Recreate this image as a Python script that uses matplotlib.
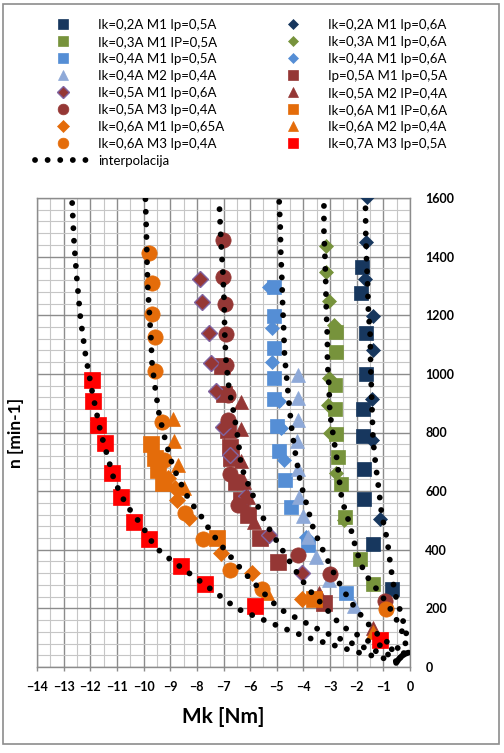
import numpy as np
import matplotlib.pyplot as plt
from matplotlib.lines import Line2D
from matplotlib.patches import Rectangle

plt.rcParams['font.family'] = ['Lato', 'DejaVu Sans']

# measured points: Mk [Nm] (x), n [min-1] (y)
ik02_m1_ip05_x = [-1.80, -1.85, -1.67, -1.67, -1.77, -1.75, -1.72, -1.72, -1.37, -0.69]
ik02_m1_ip05_y = [1364, 1277, 1139, 1000, 880, 787, 675, 573, 420, 266]
ik02_m1_ip06_x = [-1.62, -1.64, -1.70, -1.39, -1.39, -1.44, -1.42, -1.14]
ik02_m1_ip06_y = [1602, 1450, 1324, 1198, 1082, 914, 773, 506]
ik03_m1_ip05_x = [-2.78, -2.78, -2.81, -2.81, -2.78, -2.71, -2.59, -2.43, -1.87, -1.38]
ik03_m1_ip05_y = [1144, 1073, 962, 880, 794, 716, 625, 512, 367, 284]
ik03_m1_ip06_x = [-3.16, -3.16, -3.04, -2.85, -3.04, -3.07, -3.00, -2.78, -2.47]
ik03_m1_ip06_y = [1437, 1346, 1247, 1167, 985, 893, 797, 663, 500]
ik04_m1_ip05_x = [-5.12, -5.12, -5.12, -5.12, -5.12, -5.01, -4.93, -4.71, -4.46, -3.82, -2.40]
ik04_m1_ip05_y = [1298, 1198, 1088, 987, 913, 823, 738, 639, 547, 417, 253]
ik04_m1_ip06_x = [-5.31, -5.19, -5.19, -4.93, -4.86, -4.74, -3.92]
ik04_m1_ip06_y = [1298, 1156, 1039, 908, 816, 707, 445]
ik04_m2_ip04_x = [-4.20, -4.20, -4.20, -4.25, -4.20, -4.15, -4.02, -3.82, -3.54, -3.04, -2.12]
ik04_m2_ip04_y = [997, 918, 841, 770, 674, 581, 514, 443, 374, 298, 209]
ip05_m1_ip05_x = [-7.06, -6.98, -6.83, -6.76, -6.70, -6.53, -6.34, -6.07, -5.62, -4.97, -3.23]
ip05_m1_ip05_y = [1027, 932, 809, 751, 714, 632, 570, 519, 441, 357, 220]
ik05_m1_ip06_x = [-7.87, -7.82, -7.53, -7.46, -7.28, -7.01, -6.77, -6.14, -5.31, -4.06]
ik05_m1_ip06_y = [1325, 1244, 1141, 1038, 940, 819, 724, 582, 451, 320]
ik05_m2_ip04_x = [-6.34, -6.36, -6.33, -6.22, -6.07, -5.84, -3.41, -1.37]
ik05_m2_ip04_y = [905, 811, 703, 632, 581, 495, 253, 134]
ik05_m3_ip04_x = [-7.02, -7.02, -6.96, -6.90, -6.90, -6.83, -6.83, -6.77, -6.47, -4.21, -3.00, -0.95]
ik05_m3_ip04_y = [1457, 1330, 1240, 1136, 1029, 928, 843, 659, 553, 383, 316, 224]
ik06_m1_ip06_x = [-9.73, -9.57, -9.45, -9.26, -7.25, -3.61]
ik06_m1_ip06_y = [760, 714, 672, 628, 441, 233]
ik06_m1_ip065_x = [-9.07, -8.82, -8.76, -8.28, -7.08, -5.94, -4.07]
ik06_m1_ip065_y = [645, 610, 570, 508, 389, 320, 231]
ik06_m2_ip04_x = [-8.91, -8.84, -8.69, -8.50, -5.38, -1.40]
ik06_m2_ip04_y = [847, 772, 689, 612, 254, 120]
ik06_m3_ip04_x = [-9.78, -9.69, -9.69, -9.56, -9.56, -9.30, -9.23, -8.44, -7.78, -6.76, -5.57, -0.89]
ik06_m3_ip04_y = [1414, 1309, 1205, 1125, 1009, 835, 707, 526, 437, 332, 267, 198]
ik07_m3_ip05_x = [-11.95, -11.89, -11.70, -11.45, -11.20, -10.85, -10.37, -9.80, -8.60, -7.69, -5.82, -1.14]
ik07_m3_ip05_y = [980, 906, 824, 764, 661, 580, 496, 437, 343, 284, 209, 93]

# interpolation curves
interp_a_x = [-12.68, -12.61, -12.50, -12.37, -12.17, -11.92, -11.61, -11.35, -11.09, -10.65, -10.06,
              -9.58, -9.23, -8.85, -8.06, -7.27, -6.49, -5.61, -4.71, -3.80, -2.78, -1.96, -1.0, -0.44]
interp_a_y = [1583, 1451, 1320, 1191, 1059, 935, 800, 718, 633, 553, 482,
              411, 383, 357, 305, 252, 199, 165, 131, 99, 72, 50, 30, 18]
interp_b_x = [-9.93, -9.89, -9.87, -9.84, -9.78, -9.72, -9.68, -9.55, -9.41, -9.17, -8.92, -8.73, -8.28,
              -7.74, -7.49, -6.90, -6.26, -5.62, -4.91, -4.49, -4.07, -3.23, -2.40, -1.52, -0.8, -0.3]
interp_b_y = [1596, 1466, 1380, 1292, 1205, 1118, 1031, 943, 858, 769, 690, 650, 568,
              502, 462, 394, 326, 264, 199, 178, 158, 119, 88, 60, 42, 30]
interp_c_x = [-7.15, -7.08, -7.02, -6.98, -6.95, -6.90, -6.79, -6.60, -6.45, -6.34, -6.20, -5.82,
              -5.42, -4.90, -4.40, -3.86, -3.23, -2.72, -2.34, -1.98, -1.61, -1.0, -0.5, -0.15]
interp_c_y = [1562, 1429, 1343, 1254, 1126, 1037, 947, 860, 775, 690, 650, 570,
              491, 415, 343, 271, 207, 155, 127, 110, 90, 70, 55, 45]
interp_d_x = [-4.91, -4.87, -4.85, -4.81, -4.78, -4.74, -4.71, -4.62, -4.53, -4.43, -4.28, -4.11,
              -3.86, -3.61, -3.19, -2.77, -2.28, -1.71, -1.10, -0.6, -0.2]
interp_d_y = [1587, 1502, 1415, 1326, 1235, 1150, 1065, 977, 891, 803, 716, 629,
              548, 466, 383, 304, 229, 161, 100, 70, 55]
interp_e_x = [-3.23, -3.23, -3.19, -3.16, -3.14, -3.10, -3.10, -3.04, -3.01, -2.88, -2.73, -2.62,
              -2.55, -2.28, -2.02, -1.71, -1.33, -0.91, -0.57, -0.32, -0.19, -0.1]
interp_e_y = [1573, 1485, 1394, 1303, 1212, 1122, 1042, 957, 868, 789, 700, 611,
              568, 492, 400, 320, 275, 224, 173, 127, 87, 55]
interp_f_x = [-1.67, -1.66, -1.63, -1.59, -1.56, -1.49, -1.48, -1.45, -1.42, -1.39, -1.29, -1.17,
              -1.06, -0.85, -0.73, -0.57, -0.32, -0.19, -0.08]
interp_f_y = [1565, 1477, 1389, 1300, 1211, 1127, 1038, 951, 866, 778, 690, 605,
              519, 431, 345, 252, 178, 133, 90]
# short, very dense curve close to the origin (reads as a solid arc)
interp_g_x = [-0.52, -0.42, -0.30, -0.18, -0.06]
interp_g_y = [14, 27, 38, 45, 49]

series = [
    ("Ik=0,2A M1 Ip=0,5A", ik02_m1_ip05_x, ik02_m1_ip05_y, 's', '#17375E', '#17375E', 10),
    ("Ik=0,2A M1 Ip=0,6A", ik02_m1_ip06_x, ik02_m1_ip06_y, 'D', '#17375E', '#17375E', 7.5),
    ("Ik=0,3A M1 IP=0,5A", ik03_m1_ip05_x, ik03_m1_ip05_y, 's', '#77933C', '#77933C', 10),
    ("Ik=0,3A M1 Ip=0,6A", ik03_m1_ip06_x, ik03_m1_ip06_y, 'D', '#77933C', '#77933C', 7.5),
    ("Ik=0,4A M1 Ip=0,5A", ik04_m1_ip05_x, ik04_m1_ip05_y, 's', '#558ED5', '#558ED5', 10),
    ("Ik=0,4A M1 Ip=0,6A", ik04_m1_ip06_x, ik04_m1_ip06_y, 'D', '#558ED5', '#558ED5', 7.5),
    ("Ik=0,4A M2 Ip=0,4A", ik04_m2_ip04_x, ik04_m2_ip04_y, '^', '#8EA9D8', '#8EA9D8', 10),
    ("Ip=0,5A M1 Ip=0,5A", ip05_m1_ip05_x, ip05_m1_ip05_y, 's', '#953735', '#953735', 11),
    ("Ik=0,5A M1 Ip=0,6A", ik05_m1_ip06_x, ik05_m1_ip06_y, 'D', '#953735', '#8064A2', 8.5),
    ("Ik=0,5A M2 IP=0,4A", ik05_m2_ip04_x, ik05_m2_ip04_y, '^', '#953735', '#953735', 10),
    ("Ik=0,5A M3 Ip=0,4A", ik05_m3_ip04_x, ik05_m3_ip04_y, 'o', '#953735', '#953735', 11),
    ("Ik=0,6A M1 IP=0,6A", ik06_m1_ip06_x, ik06_m1_ip06_y, 's', '#E46C0A', '#E46C0A', 11),
    ("Ik=0,6A M1 Ip=0,65A", ik06_m1_ip065_x, ik06_m1_ip065_y, 'D', '#E46C0A', '#E46C0A', 8.5),
    ("Ik=0,6A M2 Ip=0,4A", ik06_m2_ip04_x, ik06_m2_ip04_y, '^', '#E46C0A', '#E46C0A', 10),
    ("Ik=0,6A M3 Ip=0,4A", ik06_m3_ip04_x, ik06_m3_ip04_y, 'o', '#E46C0A', '#E46C0A', 11),
    ("Ik=0,7A M3 Ip=0,5A", ik07_m3_ip05_x, ik07_m3_ip05_y, 's', '#FF0000', '#FF0000', 11),
]
curves = [(interp_a_x, interp_a_y), (interp_b_x, interp_b_y), (interp_c_x, interp_c_y),
          (interp_d_x, interp_d_y), (interp_e_x, interp_e_y), (interp_f_x, interp_f_y)]

fig = plt.figure(figsize=(5.04, 7.53), dpi=100)
fig.patches.append(Rectangle((3 / 504, 1 - 744 / 753), 496 / 504, 740 / 753, transform=fig.transFigure,
                             fill=False, edgecolor='#8c8c8c', lw=1.2))
ax = fig.add_axes([37 / 504, 1 - 667 / 753, 373 / 504, 469 / 753])

handles = []
for label, x, y, m, fc, ec, ms in series:
    ax.plot(x, y, linestyle='none', marker=m, markersize=ms, markerfacecolor=fc,
            markeredgecolor=ec, markeredgewidth=1.0 if ec != fc else 0.5, zorder=3)
    handles.append(Line2D([], [], linestyle='none', marker=m, markersize=ms * 0.7,
                          markerfacecolor=fc, markeredgecolor=ec, markeredgewidth=1.0 if ec != fc else 0.5))

dot_style = dict(color='black', lw=4.2, linestyle=(0, (0.01, 2.15)), dash_capstyle='round', zorder=4)
for cx, cy in curves:
    ax.plot(cx, cy, **dot_style)
ax.plot(interp_g_x, interp_g_y, color='black', lw=4.2, solid_capstyle='round', zorder=4)
interp_handle = Line2D([], [], **dot_style)

ax.set_xlim(-14, 0)
ax.set_ylim(0, 1600)
ax.set_xticks(np.arange(-14, 1, 1))
ax.set_xticks(np.arange(-14, 0.01, 0.5), minor=True)
ax.set_yticks(np.arange(0, 1601, 200))
ax.set_yticks(np.arange(0, 1601, 40), minor=True)
ax.grid(which='major', color='#8c8c8c', lw=1.0)
ax.grid(which='minor', color='#c6c6c6', lw=0.8)
ax.set_axisbelow(True)
ax.yaxis.tick_right()
ax.tick_params(axis='x', which='major', direction='out', length=3, width=1, color='#8c8c8c',
               labelsize=9, pad=7)
ax.tick_params(axis='y', which='major', length=0, labelsize=9, pad=11)
ax.tick_params(which='minor', length=0)
for lab in ax.get_xticklabels() + ax.get_yticklabels():
    lab.set_fontweight('bold')
for s in ax.spines.values():
    s.set_color('#8c8c8c')
    s.set_linewidth(1.0)

fig.text(223 / 504, 1 - 717 / 753, 'Mk [Nm]', ha='center', va='center', fontsize=15, fontweight='bold')
fig.text(16 / 504, 1 - 433 / 753, 'n [min-1]', ha='center', va='center', rotation=90,
         fontsize=12.5, fontweight='bold')

left_idx = [0, 2, 4, 6, 8, 10, 12, 14]
right_idx = [1, 3, 5, 7, 9, 11, 13, 15]
leg_kw = dict(frameon=False, fontsize=9.5, borderpad=0, borderaxespad=0, labelspacing=0.38,
              handletextpad=0.6, handlelength=4.2, loc='upper left')
fig.legend([handles[i] for i in left_idx] + [interp_handle],
           [series[i][0] for i in left_idx] + ['interpolacija'],
           bbox_to_anchor=(35 / 504, 1 - 19 / 753), **leg_kw)
fig.legend([handles[i] for i in right_idx], [series[i][0] for i in right_idx],
           bbox_to_anchor=(265 / 504, 1 - 19 / 753), **leg_kw)

fig.savefig('out.png', dpi=100, facecolor='white')
